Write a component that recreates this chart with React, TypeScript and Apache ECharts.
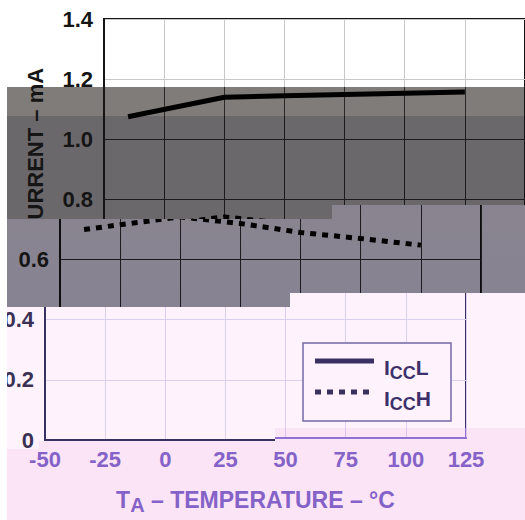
import React, { useEffect, useRef } from "react";
import * as echarts from "echarts";

// ---- data ----
const temperatures = [-40, 0, 25, 50, 75, 100];
const iccLow = [1.075, 1.14, 1.145, 1.149, 1.153, 1.157];
const iccHigh = [0.7, 0.742, 0.72, 0.69, 0.67, 0.648];
const seriesNames = ["ICCL", "ICCH"];
const xMin = -50;
const xMax = 125;
const xStep = 25;
const yMin = 0;
const yMax = 1.4;
const yStep = 0.2;

const PAD = 100;
const W = 525 + 2 * PAD;
const H = 520;
const FONT = "'Liberation Sans', Arial, Helvetica, sans-serif";

const SOLID_ICON = "path://M59,19M0,0H59V5H0Z";
const DOTTED_ICON =
  "path://M59,19M0,0h6v5h-6zM12,0h6v5h-6zM24,0h6v5h-6zM36,0h6v5h-6zM48,0h6v5h-6z";

type Theme = {
  grid: string;
  axis: string;
  label: string;
  line: string;
  legendText: string;
  legendBorder: string;
  bg: string;
};

type LayerDef = {
  key: string;
  shift: number;
  clip: number[][];
  background: string;
  theme: Theme;
  yLabels: number[];
  showXLabels: boolean;
  showYName: boolean;
  showLegend: boolean;
};

const ink = {
  grid: "#c8c8c8",
  axis: "#151515",
  label: "#151515",
  line: "#000000",
  legendText: "#151515",
  legendBorder: "#151515",
  bg: "#ffffff",
};

const layers: LayerDef[] = [
  {
    key: "topWhite",
    shift: 59,
    clip: [[0, 0], [525, 0], [525, 87], [0, 87]],
    background: "#ffffff",
    theme: { ...ink },
    yLabels: [1.4, 1.2],
    showXLabels: false,
    showYName: true,
    showLegend: false,
  },
  {
    key: "topLight",
    shift: 59,
    clip: [[7, 87], [525, 87], [525, 116], [7, 116]],
    background: "#7f7c79",
    theme: { ...ink, grid: "#2a2929", bg: "#7f7c79" },
    yLabels: [1.2],
    showXLabels: false,
    showYName: true,
    showLegend: false,
  },
  {
    key: "topDark",
    shift: 59,
    clip: [[7, 116], [525, 116], [525, 205], [332, 205], [332, 219], [7, 219]],
    background: "#6b686b",
    theme: { ...ink, grid: "#1c1b1c", bg: "#6b686b" },
    yLabels: [1.0, 0.8],
    showXLabels: false,
    showYName: true,
    showLegend: false,
  },
  {
    key: "middle",
    shift: 15,
    clip: [[7, 219], [332, 219], [332, 205], [525, 205], [525, 293], [290, 293], [290, 307], [7, 307]],
    background: "linear-gradient(#8c888a, #847f98)",
    theme: { ...ink, grid: "#1c1b20", axis: "#0e0e10", bg: "#88848f" },
    yLabels: [0.6],
    showXLabels: false,
    showYName: false,
    showLegend: false,
  },
  {
    key: "bottomLight",
    shift: 0,
    clip: [
      [7, 307], [290, 307], [290, 293], [525, 293], [525, 428], [275, 428],
      [275, 441], [39, 441], [39, 449], [7, 449],
    ],
    background: "#fef3fd",
    theme: {
      grid: "#d9d0f2",
      axis: "#3b3062",
      label: "#3b3155",
      line: "#3b3062",
      legendText: "#3d2f6a",
      legendBorder: "#7468a8",
      bg: "#fef3fd",
    },
    yLabels: [0.4, 0.2, 0],
    showXLabels: false,
    showYName: false,
    showLegend: true,
  },
  {
    key: "bottomDark",
    shift: 0,
    clip: [[39, 449], [39, 441], [275, 441], [275, 428], [525, 428], [525, 520], [7, 520], [7, 449]],
    background: "#fce4f7",
    theme: {
      grid: "#dcc4f2",
      axis: "#9070d2",
      label: "#8462c8",
      line: "#9070d2",
      legendText: "#8462c8",
      legendBorder: "#9070d2",
      bg: "#fce4f7",
    },
    yLabels: [],
    showXLabels: true,
    showYName: false,
    showLegend: false,
  },
];

function tok(color: string, size: number, padTop: number, padLeft = 0) {
  return {
    fontSize: size,
    fontWeight: "bold",
    fontFamily: FONT,
    color,
    lineHeight: 22,
    verticalAlign: "top",
    padding: [padTop, 0, 0, padLeft],
  };
}

function buildOption(l: LayerDef) {
  const t = l.theme;
  return {
    animation: false,
    backgroundColor: "transparent",
    textStyle: { fontFamily: FONT },
    grid: {
      left: PAD + 45,
      right: W - (PAD + 466),
      top: 19,
      bottom: 80,
      show: true,
      borderColor: t.axis,
      borderWidth: 2,
      backgroundColor: "transparent",
    },
    xAxis: {
      type: "value",
      min: xMin,
      max: xMax,
      interval: xStep,
      axisLine: { show: true, onZero: false, lineStyle: { color: t.axis, width: 2 } },
      axisTick: { show: false },
      splitLine: { show: true, lineStyle: { color: t.grid, width: 1 } },
      axisLabel: {
        show: l.showXLabels,
        color: t.label,
        fontSize: 22,
        fontWeight: "bold",
        fontFamily: FONT,
        lineHeight: 18,
        margin: 12,
      },
      name: l.showXLabels ? "{n|T}{s|A}{n| – TEMPERATURE – °C}" : "",
      nameLocation: "middle",
      nameGap: 50,
      nameTextStyle: {
        rich: {
          n: tok(t.label, 23, 0),
          s: tok(t.label, 20, 7),
        },
      },
    },
    yAxis: {
      type: "value",
      min: yMin,
      max: yMax,
      interval: yStep,
      axisLine: { show: true, onZero: false, lineStyle: { color: t.axis, width: 2 } },
      axisTick: { show: false },
      splitLine: { show: true, lineStyle: { color: t.grid, width: 1 } },
      axisLabel: {
        color: t.label,
        fontSize: 22,
        fontWeight: "bold",
        fontFamily: FONT,
        lineHeight: 16,
        padding: [0, 0, 3, 0],
        margin: 11,
        formatter: (v: number) => {
          const visible = l.yLabels.some((y) => Math.abs(y - v) < 1e-6);
          if (!visible) return "";
          return v === 0 ? "0" : v.toFixed(1);
        },
      },
      name: l.showYName ? "{f|I}{s|CC}{n| – SUPPLY CURRENT – mA}" : "",
      nameLocation: "middle",
      nameGap: 58,
      nameTextStyle: {
        rich: {
          f: tok(t.label, 22, 0, 6),
          n: tok(t.label, 22, 0),
          s: tok(t.label, 19, 6),
        },
      },
    },
    legend: {
      show: l.showLegend,
      orient: "vertical",
      left: PAD + 303,
      top: 343,
      itemWidth: 59,
      itemHeight: 19,
      itemGap: 6,
      padding: [14, 20, 8, 12],
      borderColor: t.legendBorder,
      borderWidth: 1.5,
      backgroundColor: t.bg,
      itemStyle: { borderWidth: 0 },
      data: [
        { name: seriesNames[0], icon: SOLID_ICON },
        { name: seriesNames[1], icon: DOTTED_ICON },
      ],
      formatter: (name: string) => `{f|I}{s|CC}{n|${name.slice(3)}}`,
      textStyle: {
        rich: {
          f: tok(t.legendText, 21, 0, 5),
          n: tok(t.legendText, 21, 0),
          s: tok(t.legendText, 18, 7),
        },
      },
    },
    series: [
      {
        type: "line",
        name: seriesNames[0],
        data: temperatures.map((x, i) => [x, iccLow[i]]),
        symbol: "none",
        showSymbol: false,
        clip: false,
        lineStyle: { color: t.line, width: 5 },
        itemStyle: { color: t.line },
      },
      {
        type: "line",
        name: seriesNames[1],
        data: temperatures.map((x, i) => [x, iccHigh[i]]),
        symbol: "none",
        showSymbol: false,
        clip: false,
        lineStyle: { color: t.line, width: 5, type: [6, 6], cap: "butt" },
        itemStyle: { color: t.line },
      },
    ],
  };
}

function Layer({ layer }: { layer: LayerDef }) {
  const ref = useRef<HTMLDivElement>(null);
  useEffect(() => {
    if (!ref.current) return;
    const chart = echarts.init(ref.current, null, { renderer: "svg", width: W, height: H });
    chart.setOption(buildOption(layer) as any);
    return () => chart.dispose();
  }, [layer]);
  const poly = layer.clip.map(([x, y]) => `${x}px ${y}px`).join(", ");
  return (
    <div
      style={{
        position: "absolute",
        left: 0,
        top: 0,
        width: 525,
        height: 520,
        overflow: "hidden",
        clipPath: `polygon(${poly})`,
        background: layer.background,
      }}
    >
      <div
        ref={ref}
        style={{ position: "absolute", left: layer.shift - PAD, top: 0, width: W, height: H }}
      />
    </div>
  );
}

export default function App() {
  return (
    <div
      style={{
        position: "fixed",
        left: 0,
        top: 0,
        width: 525,
        height: 520,
        background: "#ffffff",
        overflow: "hidden",
      }}
    >
      {layers.map((l) => (
        <Layer key={l.key} layer={l} />
      ))}
    </div>
  );
}
